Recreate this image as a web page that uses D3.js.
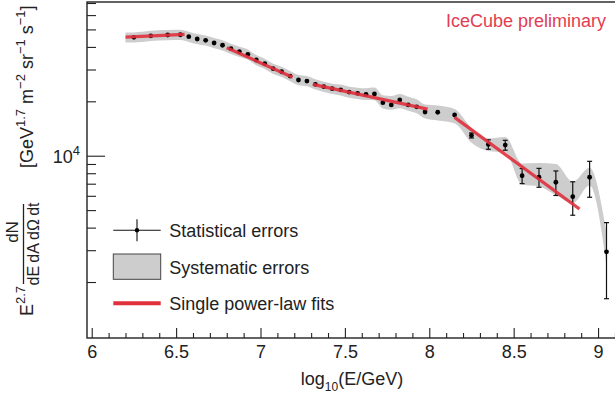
<!DOCTYPE html>
<html>
<head>
<meta charset="utf-8">
<script src="https://cdn.jsdelivr.net/npm/d3@7/dist/d3.min.js"></script>
<style>
  html, body { margin: 0; padding: 0; background: #fff; }
  svg { display: block; font-family: "Liberation Sans", Arial, Helvetica, sans-serif; }
</style>
</head>
<body>
<svg id="chart" width="615" height="394"></svg>
<script>
// Bin centres in log10(E/GeV)
const logE = [
  6.25, 6.35, 6.45, 6.525, 6.575, 6.625, 6.675, 6.725, 6.775, 6.825,
  6.875, 6.925, 6.975, 7.025, 7.075, 7.125, 7.175, 7.225, 7.275, 7.325,
  7.375, 7.425, 7.475, 7.525, 7.575, 7.625, 7.675, 7.725, 7.775, 7.825,
  7.875, 7.925, 7.975, 8.05, 8.15, 8.25, 8.35, 8.45, 8.55, 8.65,
  8.75, 8.85, 8.95, 9.05
];
// E^2.7 dN/(dE dA dΩ dt) in GeV^1.7 m^-2 sr^-1 s^-1
const flux = [
  45200, 46100, 46550, 46700, 45550, 44250, 43500, 42050, 40850, 39100,
  37650, 36400, 33850, 32300, 30300, 29150, 27600, 26250, 25900, 24850,
  24100, 23500, 23150, 22500, 22150, 21850, 21950, 19650, 19100, 20350,
  19100, 18650, 17450, 17400, 16800, 12950, 11550, 11450, 7750, 7600,
  7130, 5930, 7600, 2940
];
// Statistical errors, percent
const statPct = [
  0.5, 0.5, 0.5, 0.5, 0.5, 0.5, 0.5, 0.5, 0.5, 0.5,
  0.5, 0.5, 0.6, 0.6, 0.6, 0.6, 0.7, 0.7, 0.7, 0.8,
  0.8, 0.9, 0.9, 1.0, 1.0, 1.1, 1.2, 1.3, 1.4, 1.5,
  1.6, 1.8, 2.0, 1.6, 2.2, 3.2, 6.0, 6.3, 9.6, 12,
  15.5, 21, 22.5, 45
];
// Systematic uncertainty band, percent above / below
const sysUpPct = [
  6.5, 6.5, 6.5, 6.5, 6.5, 6.5, 6.5, 6.5, 6.5, 6.5,
  6.5, 6.5, 6.5, 6.5, 6.5, 6.5, 6.5, 6.5, 6.5, 6.5,
  6.5, 6.5, 7, 7, 7.5, 8, 8.5, 10, 12, 8,
  11, 10, 10, 9, 8, 10, 8, 11, 17, 20,
  26, 21, 13, 28
];
const sysDnPct = [
  6.5, 6.5, 6.5, 6.5, 6.5, 6.5, 6.5, 6.5, 6.5, 6.5,
  6.5, 6.5, 6.5, 6.5, 6.5, 6.5, 6.5, 6.5, 6.5, 6.5,
  6.5, 6.5, 7, 7, 7, 7, 7.5, 7, 6, 10,
  7, 8, 8, 10, 10, 9, 8, 9, 11, 11,
  15, 8, 10, 16
];
// Single power-law fits: [log10 E start, log10 E end], flux at each end
const fitRanges = [[6.20, 6.55], [6.80, 7.19], [7.31, 7.99], [8.15, 8.89]];
const fitFlux   = [[45300, 46900], [39600, 27200], [24800, 18100], [16300, 5070]];

const xMajor = [6, 6.5, 7, 7.5, 8, 8.5, 9];
const xMinor = d3.range(6.0, 9.15, 0.1).map(v => +v.toFixed(1)).filter(v => !xMajor.includes(v));
const yMajor = [1e4];
const yMinor = [2000, 3000, 4000, 5000, 6000, 7000, 8000, 9000, 2e4, 3e4, 4e4, 5e4, 6e4, 7e4];

const legendItems = ["Statistical errors", "Systematic errors", "Single power-law fits"];

const svg = d3.select("#chart");
const plotL = 87, plotT = 2, plotR = 620, plotB = 338;

const x = d3.scaleLinear().domain([5.972, 9.13]).range([plotL, plotR]);
const y = d3.scaleLog().domain([980, 70900]).range([plotB, plotT]);

const pts = logE.map((e, i) => ({
  e, f: flux[i],
  st: statPct[i] / 100,
  hi: flux[i] * (1 + sysUpPct[i] / 100),
  lo: flux[i] * (1 - sysDnPct[i] / 100)
}));

// systematic band: the first bin is stretched back to its lower edge
const bandPts = [{ e: pts[0].e - 0.05, hi: pts[0].hi, lo: pts[0].lo }, ...pts];
const area = d3.area()
  .x(d => x(d.e)).y0(d => y(d.lo)).y1(d => y(d.hi))
  .curve(d3.curveMonotoneX);
svg.append("path").datum(bandPts)
  .attr("d", area).attr("fill", "#cdcdcd").attr("stroke", "none");

// statistical error bars
const eb = svg.append("g").attr("stroke", "#111").attr("stroke-width", 1.2);
pts.forEach(p => {
  const y1 = y(p.f * (1 + p.st)), y2 = y(p.f * (1 - p.st)), cx = x(p.e);
  if (y2 - y1 > 5) {
    eb.append("line").attr("x1", cx).attr("x2", cx).attr("y1", y1).attr("y2", y2);
    eb.append("line").attr("x1", cx - 2.5).attr("x2", cx + 2.5).attr("y1", y1).attr("y2", y1);
    eb.append("line").attr("x1", cx - 2.5).attr("x2", cx + 2.5).attr("y1", y2).attr("y2", y2);
  }
});

// data points
svg.append("g").selectAll("circle").data(pts).join("circle")
  .attr("cx", d => x(d.e)).attr("cy", d => y(d.f)).attr("r", 2.4).attr("fill", "#000");

// power-law fits (straight in log-log)
const fitLine = d3.line().x(d => x(d[0])).y(d => y(d[1]));
fitRanges.forEach((r, i) => {
  svg.append("path")
    .datum([[r[0], fitFlux[i][0]], [r[1], fitFlux[i][1]]])
    .attr("d", fitLine).attr("fill", "none")
    .attr("stroke", "#e0303c").attr("stroke-width", 3.2).attr("stroke-opacity", 0.9);
});

// frame
svg.append("rect").attr("x", plotL).attr("y", plotT)
  .attr("width", plotR - plotL).attr("height", plotB - plotT)
  .attr("fill", "none").attr("stroke", "#222").attr("stroke-width", 1.4);

// x axis (ticks pointing inward)
const gx = svg.append("g").attr("transform", `translate(0,${plotB})`);
gx.call(d3.axisBottom(x).tickValues(xMajor).tickSize(-10).tickPadding(7.7)
  .tickFormat(d => String(d)));
gx.append("g").call(d3.axisBottom(x).tickValues(xMinor).tickSize(-5).tickFormat(""));
gx.selectAll(".domain").remove();
gx.selectAll("line").attr("stroke", "#222").attr("stroke-width", 1.1);
gx.selectAll("text").attr("font-size", 18).attr("fill", "#222")
  .attr("font-family", "Liberation Sans, Arial, sans-serif");

// y axis (ticks pointing inward)
const gy = svg.append("g").attr("transform", `translate(${plotL},0)`);
gy.call(d3.axisRight(y).tickValues(yMajor).tickSize(18).tickFormat(""));
gy.append("g").call(d3.axisRight(y).tickValues(yMinor).tickSize(9).tickFormat(""));
gy.selectAll(".domain").remove();
gy.selectAll("line").attr("stroke", "#222").attr("stroke-width", 1.1);

yMajor.forEach(v => {
  const t = svg.append("text").attr("x", 80).attr("y", y(v) + 7.6)
    .attr("text-anchor", "end").attr("font-size", 18).attr("fill", "#222");
  t.append("tspan").text("10");
  t.append("tspan").attr("font-size", 13).attr("dy", -8).text(Math.log10(v));
});

// x axis title
const xt = svg.append("text").attr("x", 352).attr("y", 385)
  .attr("text-anchor", "middle").attr("font-size", 18).attr("fill", "#222");
xt.append("tspan").text("log");
xt.append("tspan").attr("font-size", 12).attr("dy", 6).text("10");
xt.append("tspan").attr("dy", -6).text("(E/GeV)");

// y axis title, rotated
const yt = svg.append("g").attr("transform", "rotate(-90)").attr("fill", "#222");
const e27 = yt.append("text").attr("x", -316).attr("y", 33).attr("font-size", 18);
e27.append("tspan").text("E");
e27.append("tspan").attr("font-size", 13).attr("dy", -8).text("2.7");
yt.append("text").attr("x", -232).attr("y", 18).attr("font-size", 17)
  .attr("text-anchor", "middle").text("dN");
yt.append("text").attr("x", -244).attr("y", 39).attr("font-size", 16)
  .attr("text-anchor", "middle").text("dE\u2009dA\u2009dΩ\u2009dt");
yt.append("line").attr("x1", -284).attr("x2", -204).attr("y1", 23.5).attr("y2", 23.5)
  .attr("stroke", "#222").attr("stroke-width", 1.3);
const unit = yt.append("text").attr("x", -168).attr("y", 33).attr("font-size", 18);
unit.append("tspan").text("[GeV");
unit.append("tspan").attr("font-size", 13).attr("dy", -8).text("1.7");
unit.append("tspan").attr("dy", 8).text(" m");
unit.append("tspan").attr("font-size", 13).attr("dy", -8).text("−2");
unit.append("tspan").attr("dy", 8).text(" sr");
unit.append("tspan").attr("font-size", 13).attr("dy", -8).text("−1");
unit.append("tspan").attr("dy", 8).text(" s");
unit.append("tspan").attr("font-size", 13).attr("dy", -8).text("−1");
unit.append("tspan").attr("dy", 8).text("]");

// label
svg.append("text").attr("x", 606).attr("y", 26.7).attr("text-anchor", "end")
  .attr("font-size", 18).attr("fill", "#e23d4f").text("IceCube preliminary");

// legend
const lg = svg.append("g");
const lx0 = 113.3, lx1 = 160.7, lmid = (lx0 + lx1) / 2;
const rowY = [230.3, 266.7, 303.3];
lg.append("line").attr("x1", lx0).attr("x2", lx1).attr("y1", rowY[0]).attr("y2", rowY[0])
  .attr("stroke", "#111").attr("stroke-width", 1.1);
lg.append("line").attr("x1", lmid).attr("x2", lmid).attr("y1", rowY[0] - 11).attr("y2", rowY[0] + 11)
  .attr("stroke", "#111").attr("stroke-width", 1.1);
lg.append("circle").attr("cx", lmid).attr("cy", rowY[0]).attr("r", 2.2).attr("fill", "#000");
lg.append("rect").attr("x", lx0).attr("y", rowY[1] - 12.7).attr("width", lx1 - lx0).attr("height", 25.3)
  .attr("fill", "#cdcdcd").attr("stroke", "#444").attr("stroke-width", 1);
lg.append("line").attr("x1", lx0).attr("x2", lx1).attr("y1", rowY[2]).attr("y2", rowY[2])
  .attr("stroke", "#e0303c").attr("stroke-width", 4);
legendItems.forEach((t, i) => {
  lg.append("text").attr("x", 169.3).attr("y", rowY[i] + 6.8)
    .attr("font-size", 18).attr("fill", "#222").text(t);
});
</script>
</body>
</html>
